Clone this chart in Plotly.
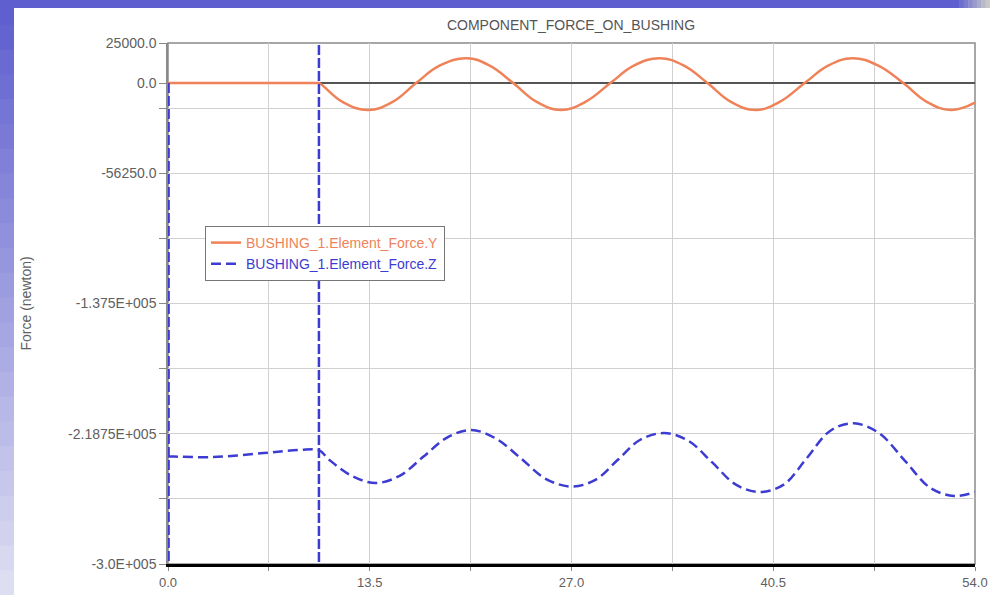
import plotly.graph_objects as go

# ---------------- data ----------------
time_y = [0, 5, 9.9, 10.1, 11.7, 13.4, 15.0, 16.6, 18.2, 20.0, 21.5, 23.1, 24.7, 26.3, 27.9,
          29.6, 31.2, 32.9, 34.5, 36.1, 37.7, 39.3, 40.9, 42.6, 44.2, 45.8, 47.5, 49.2,
          50.8, 52.4, 54.0]
force_y = [0, 0, 0, 0, -11900, -16800, -11900, 0, 11000, 15500, 11000, 0, -11900, -16800, -11900,
           0, 11000, 15500, 11000, 0, -11900, -16800, -11900, 0, 11000, 15500, 11000, 0,
           -11900, -16800, -12200]

time_z = [0, 0.4, 3.0, 6.4, 8.8, 10.1, 10.8, 12.3, 13.9, 15.5, 17.1, 18.7, 20.3, 21.9, 23.6,
          25.3, 27.0, 28.6, 30.1, 31.6, 33.2, 34.8, 36.4, 38.0, 39.6, 41.2, 42.7, 44.3,
          45.9, 47.6, 49.3, 51.0, 52.6, 54.0]
force_z = [-233000, -233000, -233300, -230800, -228900, -229000, -235100, -245000, -249500,
           -245000, -233000, -221000, -216400, -221500, -234000, -247000, -251700, -247500,
           -235000, -222500, -218300, -223000, -236500, -250500, -255100, -250500, -234500,
           -217000, -212200, -218500, -235500, -252500, -257600, -255100]

# impulse spikes of the Z component (go off-scale)
spike_t = [0.04, 0.04, None, 10.1, 10.1]
spike_force = [0, -330000, None, 40000, -330000]

x_ticks = [0, 6.75, 13.5, 20.25, 27.0, 33.75, 40.5, 47.25, 54.0]
x_labels = ["0.0", "", "13.5", "", "27.0", "", "40.5", "", "54.0"]
y_ticks = [25000, 0, -15625, -56250, -96875, -137500, -178125, -218750, -259375, -300000]
y_labels = ["25000.0", "0.0", "", "-56250.0", "", "-1.375E+005", "", "-2.1875E+005", "", "-3.0E+005"]

name_y = "BUSHING_1.Element_Force.Y"
name_z = "BUSHING_1.Element_Force.Z"
title_text = "COMPONENT_FORCE_ON_BUSHING"
y_title = "Force (newton)"

# ---------------- styles ----------------
ORANGE = "#ef8258"
BLUE = "#3c3cd2"
FONT = "Liberation Sans, Arial, sans-serif"
TXT = "#606060"
FS = 14

W, H = 990, 595
L, R, T, B = 168, 15, 43, 31
pw, ph = W - L - R, H - T - B


def px_x(p):
    return (p - L) / pw


def px_y(p):
    return (H - B - p) / ph


fig = go.Figure()

fig.add_trace(go.Scatter(
    x=time_y, y=force_y, mode="lines", line=dict(color=ORANGE, width=2.5, shape="spline", smoothing=1.2),
    name=f"<span style='color:{ORANGE}'>{name_y}</span>"))

fig.add_trace(go.Scatter(
    x=time_z, y=force_z, mode="lines",
    line=dict(color=BLUE, width=2.5, dash="10px,5px", shape="spline", smoothing=1),
    name=f"<span style='color:{BLUE}'>{name_z}</span>"))

fig.add_trace(go.Scatter(
    x=spike_t, y=spike_force, mode="lines",
    line=dict(color=BLUE, width=2.5, dash="10px,3px"),
    showlegend=False, hoverinfo="skip"))

# background frame (purple bands on the slide)
shapes = []
n = 24
top_c = (0x5f, 0x5f, 0xcf)
bot_c = (0xde, 0xde, 0xf3)
for i in range(n):
    f = i / (n - 1)
    c = tuple(int(top_c[k] + (bot_c[k] - top_c[k]) * f) for k in range(3))
    y0 = i * H / n
    y1 = (i + 1) * H / n + 1
    shapes.append(dict(type="rect", xref="paper", yref="paper",
                       x0=px_x(0), x1=px_x(14), y0=px_y(y1), y1=px_y(y0),
                       fillcolor="rgb(%d,%d,%d)" % c, line=dict(width=0), layer="below"))
# top band with fade at right
shapes.append(dict(type="rect", xref="paper", yref="paper",
                   x0=px_x(0), x1=px_x(955), y0=px_y(8), y1=px_y(0),
                   fillcolor="rgb(95,95,207)", line=dict(width=0), layer="below"))
m = 8
for i in range(m):
    f = i / (m - 1)
    c = tuple(int(top_c[k] + (0xc8 - top_c[k]) * f) for k in range(3))
    x0 = 955 + i * 35 / m
    shapes.append(dict(type="rect", xref="paper", yref="paper",
                       x0=px_x(x0), x1=px_x(x0 + 35 / m + 0.5), y0=px_y(8), y1=px_y(0),
                       fillcolor="rgb(%d,%d,%d)" % c, line=dict(width=0), layer="below"))
# plot border (top/right gray)
shapes.append(dict(type="rect", xref="paper", yref="paper", x0=0, x1=1, y0=0, y1=1,
                   line=dict(color="#8a8a8a", width=1.5), layer="below"))

fig.update_layout(
    width=W, height=H,
    margin=dict(l=L, r=R, t=T, b=B, autoexpand=False),
    paper_bgcolor="white", plot_bgcolor="white",
    font=dict(family=FONT, size=FS, color=TXT),
    title=dict(text=title_text, x=571 / W, xanchor="center",
               y=1 - 25 / H, yanchor="middle", yref="container",
               font=dict(family=FONT, size=FS, color="#555")),
    showlegend=True,
    legend=dict(x=px_x(205), y=px_y(226), xanchor="left", yanchor="top",
                bgcolor="white", bordercolor="#777", borderwidth=1,
                font=dict(family=FONT, size=FS), tracegroupgap=0,
                itemwidth=30),
    shapes=shapes,
    annotations=[dict(text=y_title, xref="paper", yref="paper", x=px_x(25), y=0.5,
                      textangle=-90, showarrow=False, xanchor="center", yanchor="middle",
                      font=dict(family=FONT, size=FS, color=TXT))],
)

fig.update_xaxes(
    range=[0, 54], tickmode="array", tickvals=x_ticks, ticktext=x_labels,
    showgrid=True, gridcolor="#d0d0d0", gridwidth=1,
    showline=True, linecolor="black", linewidth=2.5,
    ticks="outside", ticklen=4, tickcolor="#888", ticklabelstandoff=1,
    zeroline=False, tickfont=dict(size=FS - 1, color=TXT), layer="below traces")

fig.update_yaxes(
    range=[-300000, 25000], tickmode="array", tickvals=y_ticks, ticktext=y_labels,
    showgrid=True, gridcolor="#d0d0d0", gridwidth=1,
    showline=True, linecolor="#8a8a8a", linewidth=1.5,
    ticks="outside", ticklen=7, tickcolor="#888",
    zeroline=True, zerolinecolor="#555", zerolinewidth=1.5,
    tickfont=dict(size=FS, color=TXT), layer="below traces")

fig.write_html("out.html", config={"displayModeBar": False},
               post_script="document.body.style.margin='0px';")
